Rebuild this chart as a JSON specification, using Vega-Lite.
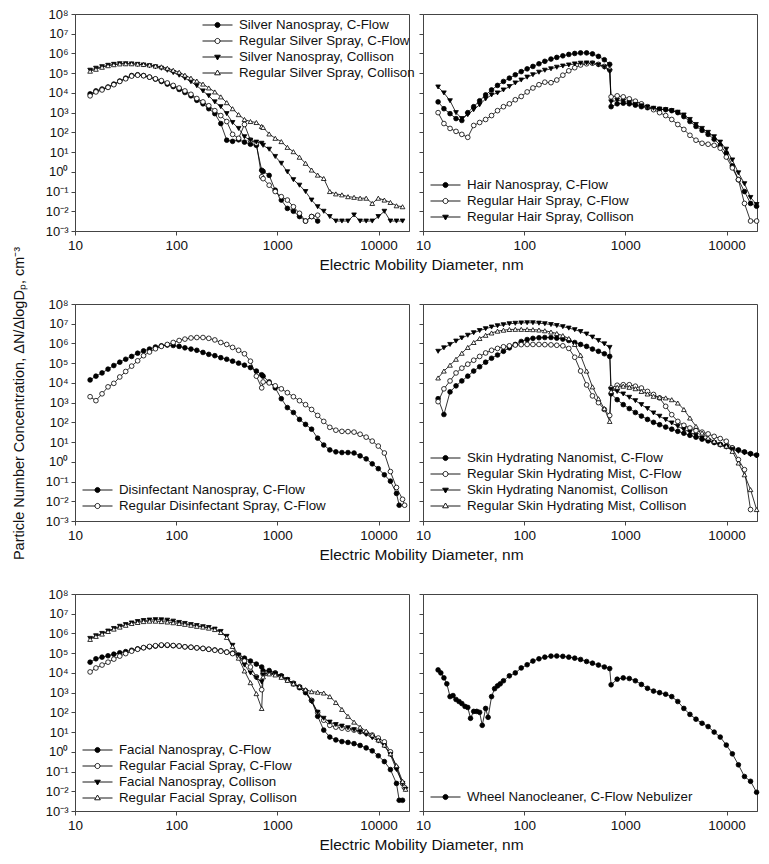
{
"$schema":"https://vega.github.io/schema/vega-lite/v6.json",
"background":"white",
"padding":{"left":10,"top":7,"right":5,"bottom":5},
"config":{
"font":"Liberation Sans",
"view":{"stroke":"#444","strokeWidth":1},
"axis":{"grid":false,"domainColor":"#444","tickColor":"#444","tickSize":4,"labelFont":"Liberation Sans","labelFontSize":13,"labelColor":"#111","labelPadding":3,"titleFont":"Liberation Sans","titleFontSize":14.5,"titleFontWeight":"normal","titleColor":"#111"},
"axisX":{"labelFontSize":13.5,"titleFontSize":15.5},
"legend":{"labelFont":"Liberation Sans","labelFontSize":13.3,"labelColor":"#111","labelLimit":400,"symbolSize":900,"symbolStrokeColor":"black","symbolStrokeWidth":0.9,"symbolOpacity":1,"labelOffset":6,"clipHeight":16,"rowPadding":0,"padding":0}
},
"datasets":{
"silver":[
{"s":"a","x":14.1,"y":8900},{"s":"a","x":16.1,"y":12600},{"s":"a","x":18.5,"y":15800},{"s":"a","x":21.2,"y":20000},{"s":"a","x":24.2,"y":28000},{"s":"a","x":27.7,"y":40000},{"s":"a","x":31.7,"y":56000},{"s":"a","x":36.3,"y":76000},{"s":"a","x":41.6,"y":83000},{"s":"a","x":47.6,"y":76000},{"s":"a","x":54.5,"y":63000},{"s":"a","x":62.4,"y":50000},{"s":"a","x":71.4,"y":38000},{"s":"a","x":81.7,"y":28000},{"s":"a","x":93.5,"y":21000},{"s":"a","x":107,"y":15000},{"s":"a","x":122,"y":10500},{"s":"a","x":140,"y":7100},{"s":"a","x":160,"y":4200},{"s":"a","x":184,"y":2800},{"s":"a","x":210,"y":1580},{"s":"a","x":241,"y":890},{"s":"a","x":276,"y":280},{"s":"a","x":316,"y":40},{"s":"a","x":361,"y":35},{"s":"a","x":414,"y":42},{"s":"a","x":473,"y":32},{"s":"a","x":542,"y":25},{"s":"a","x":620,"y":22},{"s":"a","x":700,"y":1.2},
{"s":"a","x":723,"y":1.05},{"s":"a","x":830,"y":0.66},{"s":"a","x":953,"y":0.117},{"s":"a","x":1094,"y":0.037},{"s":"a","x":1256,"y":0.014},{"s":"a","x":1441,"y":0.01},{"s":"a","x":1655,"y":0.0054},{"s":"a","x":1899,"y":0.0032},{"s":"a","x":2180,"y":0.0054},{"s":"a","x":2503,"y":0.0032},
{"s":"b","x":14.1,"y":7100},{"s":"b","x":16.1,"y":11200},{"s":"b","x":18.5,"y":14100},{"s":"b","x":21.2,"y":19000},{"s":"b","x":24.2,"y":26000},{"s":"b","x":27.7,"y":38000},{"s":"b","x":31.7,"y":52000},{"s":"b","x":36.3,"y":71000},{"s":"b","x":41.6,"y":79000},{"s":"b","x":47.6,"y":74000},{"s":"b","x":54.5,"y":63000},{"s":"b","x":62.4,"y":52000},{"s":"b","x":71.4,"y":42000},{"s":"b","x":81.7,"y":32000},{"s":"b","x":93.5,"y":24000},{"s":"b","x":107,"y":17800},{"s":"b","x":122,"y":12600},{"s":"b","x":140,"y":8500},{"s":"b","x":160,"y":5200},{"s":"b","x":184,"y":3500},{"s":"b","x":210,"y":2240},{"s":"b","x":241,"y":1260},{"s":"b","x":276,"y":710},{"s":"b","x":316,"y":355},{"s":"b","x":361,"y":79},{"s":"b","x":414,"y":50},{"s":"b","x":473,"y":250},{"s":"b","x":542,"y":40},{"s":"b","x":620,"y":28},{"s":"b","x":700,"y":0.56},
{"s":"b","x":723,"y":0.45},{"s":"b","x":830,"y":0.21},{"s":"b","x":953,"y":0.1},{"s":"b","x":1094,"y":0.055},{"s":"b","x":1256,"y":0.037},{"s":"b","x":1441,"y":0.017},{"s":"b","x":1655,"y":0.0079},{"s":"b","x":1899,"y":0.0032},{"s":"b","x":2180,"y":0.0054},{"s":"b","x":2503,"y":0.0063},
{"s":"c","x":14.1,"y":141000},{"s":"c","x":16.1,"y":178000},{"s":"c","x":18.5,"y":214000},{"s":"c","x":21.2,"y":250000},{"s":"c","x":24.2,"y":280000},{"s":"c","x":27.7,"y":300000},{"s":"c","x":31.7,"y":300000},{"s":"c","x":36.3,"y":295000},{"s":"c","x":41.6,"y":280000},{"s":"c","x":47.6,"y":260000},{"s":"c","x":54.5,"y":240000},{"s":"c","x":62.4,"y":210000},{"s":"c","x":71.4,"y":178000},{"s":"c","x":81.7,"y":141000},{"s":"c","x":93.5,"y":107000},{"s":"c","x":107,"y":79000},{"s":"c","x":122,"y":56000},{"s":"c","x":140,"y":37000},{"s":"c","x":160,"y":23000},{"s":"c","x":184,"y":12600},{"s":"c","x":210,"y":7100},{"s":"c","x":241,"y":3500},{"s":"c","x":276,"y":2000},{"s":"c","x":316,"y":890},{"s":"c","x":361,"y":316},{"s":"c","x":414,"y":158},{"s":"c","x":473,"y":60},{"s":"c","x":542,"y":40},{"s":"c","x":620,"y":32},{"s":"c","x":700,"y":28},
{"s":"c","x":723,"y":22},{"s":"c","x":830,"y":14},{"s":"c","x":953,"y":6},{"s":"c","x":1094,"y":2.7},{"s":"c","x":1256,"y":1},{"s":"c","x":1441,"y":0.4},{"s":"c","x":1655,"y":0.21},{"s":"c","x":1899,"y":0.1},{"s":"c","x":2180,"y":0.037},{"s":"c","x":2503,"y":0.017},{"s":"c","x":2873,"y":0.01},{"s":"c","x":3298,"y":0.0054},{"s":"c","x":3786,"y":0.0032},{"s":"c","x":4346,"y":0.0032},{"s":"c","x":4989,"y":0.0032},{"s":"c","x":5727,"y":0.0065},{"s":"c","x":6574,"y":0.0032},{"s":"c","x":7546,"y":0.0032},{"s":"c","x":8663,"y":0.0032},{"s":"c","x":9944,"y":0.0054},{"s":"c","x":11415,"y":0.01},{"s":"c","x":13103,"y":0.0032},{"s":"c","x":15041,"y":0.0032},{"s":"c","x":17266,"y":0.0032},
{"s":"d","x":14.1,"y":126000},{"s":"d","x":16.1,"y":158000},{"s":"d","x":18.5,"y":200000},{"s":"d","x":21.2,"y":240000},{"s":"d","x":24.2,"y":270000},{"s":"d","x":27.7,"y":295000},{"s":"d","x":31.7,"y":300000},{"s":"d","x":36.3,"y":300000},{"s":"d","x":41.6,"y":290000},{"s":"d","x":47.6,"y":275000},{"s":"d","x":54.5,"y":260000},{"s":"d","x":62.4,"y":230000},{"s":"d","x":71.4,"y":210000},{"s":"d","x":81.7,"y":178000},{"s":"d","x":93.5,"y":141000},{"s":"d","x":107,"y":112000},{"s":"d","x":122,"y":79000},{"s":"d","x":140,"y":56000},{"s":"d","x":160,"y":40000},{"s":"d","x":184,"y":28000},{"s":"d","x":210,"y":17800},{"s":"d","x":241,"y":11200},{"s":"d","x":276,"y":6300},{"s":"d","x":316,"y":3200},{"s":"d","x":361,"y":1580},{"s":"d","x":414,"y":790},{"s":"d","x":473,"y":450},{"s":"d","x":542,"y":355},{"s":"d","x":620,"y":316},{"s":"d","x":700,"y":200},
{"s":"d","x":723,"y":178},{"s":"d","x":830,"y":83},{"s":"d","x":953,"y":50},{"s":"d","x":1094,"y":34},{"s":"d","x":1256,"y":17.4},{"s":"d","x":1441,"y":10.5},{"s":"d","x":1655,"y":5.5},{"s":"d","x":1899,"y":2.7},{"s":"d","x":2180,"y":1.23},{"s":"d","x":2503,"y":0.68},{"s":"d","x":2873,"y":0.46},{"s":"d","x":3298,"y":0.1},{"s":"d","x":3786,"y":0.076},{"s":"d","x":4346,"y":0.068},{"s":"d","x":4989,"y":0.055},{"s":"d","x":5727,"y":0.051},{"s":"d","x":6574,"y":0.046},{"s":"d","x":7546,"y":0.046},{"s":"d","x":8663,"y":0.025},{"s":"d","x":9944,"y":0.046},{"s":"d","x":11415,"y":0.037},{"s":"d","x":13103,"y":0.028},{"s":"d","x":15041,"y":0.019},{"s":"d","x":17266,"y":0.017}
],
"hair":[
{"s":"a","x":14.1,"y":3500},{"s":"a","x":16.1,"y":1580},{"s":"a","x":18.5,"y":890},{"s":"a","x":21.2,"y":500},{"s":"a","x":24.2,"y":400},{"s":"a","x":27.7,"y":1000},{"s":"a","x":31.7,"y":2000},{"s":"a","x":36.3,"y":4000},{"s":"a","x":41.6,"y":7900},{"s":"a","x":47.6,"y":14100},{"s":"a","x":54.5,"y":24000},{"s":"a","x":62.4,"y":38000},{"s":"a","x":71.4,"y":56000},{"s":"a","x":81.7,"y":83000},{"s":"a","x":93.5,"y":120000},{"s":"a","x":107,"y":166000},{"s":"a","x":122,"y":220000},{"s":"a","x":140,"y":300000},{"s":"a","x":160,"y":400000},{"s":"a","x":184,"y":520000},{"s":"a","x":210,"y":630000},{"s":"a","x":241,"y":760000},{"s":"a","x":276,"y":890000},{"s":"a","x":316,"y":1000000},{"s":"a","x":361,"y":1070000},{"s":"a","x":414,"y":1070000},{"s":"a","x":473,"y":950000},{"s":"a","x":542,"y":710000},{"s":"a","x":620,"y":480000},{"s":"a","x":700,"y":280000},
{"s":"a","x":723,"y":2000},{"s":"a","x":830,"y":2800},{"s":"a","x":953,"y":3000},{"s":"a","x":1094,"y":2800},{"s":"a","x":1256,"y":2400},{"s":"a","x":1441,"y":2000},{"s":"a","x":1655,"y":1780},{"s":"a","x":1899,"y":1580},{"s":"a","x":2180,"y":1480},{"s":"a","x":2503,"y":1410},{"s":"a","x":2873,"y":1260},{"s":"a","x":3298,"y":1000},{"s":"a","x":3786,"y":630},{"s":"a","x":4346,"y":355},{"s":"a","x":4989,"y":200},{"s":"a","x":5727,"y":126},{"s":"a","x":6574,"y":79},{"s":"a","x":7546,"y":45},{"s":"a","x":8663,"y":22},{"s":"a","x":9944,"y":8.9},{"s":"a","x":11415,"y":2},{"s":"a","x":13103,"y":0.4},{"s":"a","x":15041,"y":0.1},{"s":"a","x":17266,"y":0.025},{"s":"a","x":19820,"y":0.018},
{"s":"b","x":14.1,"y":1000},{"s":"b","x":16.1,"y":280},{"s":"b","x":18.5,"y":158},{"s":"b","x":21.2,"y":112},{"s":"b","x":24.2,"y":79},{"s":"b","x":27.7,"y":56},{"s":"b","x":31.7,"y":224},{"s":"b","x":36.3,"y":316},{"s":"b","x":41.6,"y":450},{"s":"b","x":47.6,"y":710},{"s":"b","x":54.5,"y":1260},{"s":"b","x":62.4,"y":2000},{"s":"b","x":71.4,"y":2800},{"s":"b","x":81.7,"y":4500},{"s":"b","x":93.5,"y":6600},{"s":"b","x":107,"y":11200},{"s":"b","x":122,"y":17800},{"s":"b","x":140,"y":26000},{"s":"b","x":160,"y":35000},{"s":"b","x":184,"y":33000},{"s":"b","x":210,"y":45000},{"s":"b","x":241,"y":79000},{"s":"b","x":276,"y":132000},{"s":"b","x":316,"y":190000},{"s":"b","x":361,"y":260000},{"s":"b","x":414,"y":300000},{"s":"b","x":473,"y":320000},{"s":"b","x":542,"y":280000},{"s":"b","x":620,"y":220000},{"s":"b","x":700,"y":145000},
{"s":"b","x":723,"y":6300},{"s":"b","x":830,"y":7100},{"s":"b","x":953,"y":6300},{"s":"b","x":1094,"y":5000},{"s":"b","x":1256,"y":3800},{"s":"b","x":1441,"y":2800},{"s":"b","x":1655,"y":2000},{"s":"b","x":1899,"y":1410},{"s":"b","x":2180,"y":1000},{"s":"b","x":2503,"y":710},{"s":"b","x":2873,"y":450},{"s":"b","x":3298,"y":250},{"s":"b","x":3786,"y":141},{"s":"b","x":4346,"y":71},{"s":"b","x":4989,"y":40},{"s":"b","x":5727,"y":28},{"s":"b","x":6574,"y":25},{"s":"b","x":7546,"y":22},{"s":"b","x":8663,"y":15.8},{"s":"b","x":9944,"y":5.6},{"s":"b","x":11415,"y":1.58},{"s":"b","x":13103,"y":0.4},{"s":"b","x":15041,"y":0.025},{"s":"b","x":17266,"y":0.0032},{"s":"b","x":19820,"y":0.0032},
{"s":"c","x":14.1,"y":20000},{"s":"c","x":16.1,"y":10000},{"s":"c","x":18.5,"y":4000},{"s":"c","x":21.2,"y":1000},{"s":"c","x":24.2,"y":500},{"s":"c","x":27.7,"y":790},{"s":"c","x":31.7,"y":1410},{"s":"c","x":36.3,"y":2500},{"s":"c","x":41.6,"y":5000},{"s":"c","x":47.6,"y":7900},{"s":"c","x":54.5,"y":10000},{"s":"c","x":62.4,"y":14100},{"s":"c","x":71.4,"y":21000},{"s":"c","x":81.7,"y":32000},{"s":"c","x":93.5,"y":45000},{"s":"c","x":107,"y":63000},{"s":"c","x":122,"y":83000},{"s":"c","x":140,"y":112000},{"s":"c","x":160,"y":141000},{"s":"c","x":184,"y":166000},{"s":"c","x":210,"y":200000},{"s":"c","x":241,"y":230000},{"s":"c","x":276,"y":260000},{"s":"c","x":316,"y":295000},{"s":"c","x":361,"y":320000},{"s":"c","x":414,"y":330000},{"s":"c","x":473,"y":320000},{"s":"c","x":542,"y":260000},{"s":"c","x":620,"y":200000},{"s":"c","x":700,"y":126000},
{"s":"c","x":723,"y":3500},{"s":"c","x":830,"y":4200},{"s":"c","x":953,"y":3800},{"s":"c","x":1094,"y":3200},{"s":"c","x":1256,"y":2600},{"s":"c","x":1441,"y":2200},{"s":"c","x":1655,"y":1900},{"s":"c","x":1899,"y":1660},{"s":"c","x":2180,"y":1510},{"s":"c","x":2503,"y":1410},{"s":"c","x":2873,"y":1260},{"s":"c","x":3298,"y":1050},{"s":"c","x":3786,"y":760},{"s":"c","x":4346,"y":450},{"s":"c","x":4989,"y":250},{"s":"c","x":5727,"y":158},{"s":"c","x":6574,"y":100},{"s":"c","x":7546,"y":60},{"s":"c","x":8663,"y":32},{"s":"c","x":9944,"y":14},{"s":"c","x":11415,"y":4},{"s":"c","x":13103,"y":0.89},{"s":"c","x":15041,"y":0.25},{"s":"c","x":17266,"y":0.05},{"s":"c","x":19820,"y":0.022}
],
"dis":[
{"s":"a","x":14.1,"y":14100},{"s":"a","x":16.1,"y":22000},{"s":"a","x":18.5,"y":32000},{"s":"a","x":21.2,"y":50000},{"s":"a","x":24.2,"y":76000},{"s":"a","x":27.7,"y":112000},{"s":"a","x":31.7,"y":158000},{"s":"a","x":36.3,"y":220000},{"s":"a","x":41.6,"y":320000},{"s":"a","x":47.6,"y":420000},{"s":"a","x":54.5,"y":520000},{"s":"a","x":62.4,"y":660000},{"s":"a","x":71.4,"y":760000},{"s":"a","x":81.7,"y":830000},{"s":"a","x":93.5,"y":790000},{"s":"a","x":107,"y":710000},{"s":"a","x":122,"y":600000},{"s":"a","x":140,"y":520000},{"s":"a","x":160,"y":450000},{"s":"a","x":184,"y":350000},{"s":"a","x":210,"y":280000},{"s":"a","x":241,"y":240000},{"s":"a","x":276,"y":190000},{"s":"a","x":316,"y":158000},{"s":"a","x":361,"y":126000},{"s":"a","x":414,"y":100000},{"s":"a","x":473,"y":79000},{"s":"a","x":542,"y":60000},{"s":"a","x":620,"y":40000},{"s":"a","x":700,"y":26000},
{"s":"a","x":723,"y":22000},{"s":"a","x":830,"y":11200},{"s":"a","x":953,"y":5600},{"s":"a","x":1094,"y":1580},{"s":"a","x":1256,"y":560},{"s":"a","x":1441,"y":316},{"s":"a","x":1655,"y":141},{"s":"a","x":1899,"y":79},{"s":"a","x":2180,"y":45},{"s":"a","x":2503,"y":15.8},{"s":"a","x":2873,"y":7.1},{"s":"a","x":3298,"y":4},{"s":"a","x":3786,"y":3.2},{"s":"a","x":4346,"y":2.95},{"s":"a","x":4989,"y":2.95},{"s":"a","x":5727,"y":2.8},{"s":"a","x":6574,"y":2},{"s":"a","x":7546,"y":1.41},{"s":"a","x":8663,"y":0.79},{"s":"a","x":9944,"y":0.45},{"s":"a","x":11415,"y":0.22},{"s":"a","x":13103,"y":0.105},{"s":"a","x":15041,"y":0.025},{"s":"a","x":16000,"y":0.0063},
{"s":"b","x":14.1,"y":2000},{"s":"b","x":16.1,"y":1260},{"s":"b","x":18.5,"y":2800},{"s":"b","x":21.2,"y":6300},{"s":"b","x":24.2,"y":9500},{"s":"b","x":27.7,"y":20000},{"s":"b","x":31.7,"y":38000},{"s":"b","x":36.3,"y":71000},{"s":"b","x":41.6,"y":132000},{"s":"b","x":47.6,"y":240000},{"s":"b","x":54.5,"y":370000},{"s":"b","x":62.4,"y":540000},{"s":"b","x":71.4,"y":710000},{"s":"b","x":81.7,"y":890000},{"s":"b","x":93.5,"y":1120000},{"s":"b","x":107,"y":1410000},{"s":"b","x":122,"y":1660000},{"s":"b","x":140,"y":1900000},{"s":"b","x":160,"y":2000000},{"s":"b","x":184,"y":2000000},{"s":"b","x":210,"y":1820000},{"s":"b","x":241,"y":1510000},{"s":"b","x":276,"y":1120000},{"s":"b","x":316,"y":890000},{"s":"b","x":361,"y":630000},{"s":"b","x":414,"y":450000},{"s":"b","x":473,"y":300000},{"s":"b","x":542,"y":126000},{"s":"b","x":620,"y":22000},{"s":"b","x":700,"y":5600},
{"s":"b","x":723,"y":11200},{"s":"b","x":830,"y":10000},{"s":"b","x":953,"y":7100},{"s":"b","x":1094,"y":5000},{"s":"b","x":1256,"y":3200},{"s":"b","x":1441,"y":2000},{"s":"b","x":1655,"y":1260},{"s":"b","x":1899,"y":790},{"s":"b","x":2180,"y":450},{"s":"b","x":2503,"y":224},{"s":"b","x":2873,"y":112},{"s":"b","x":3298,"y":56},{"s":"b","x":3786,"y":40},{"s":"b","x":4346,"y":35},{"s":"b","x":4989,"y":34},{"s":"b","x":5727,"y":32},{"s":"b","x":6574,"y":25},{"s":"b","x":7546,"y":17.8},{"s":"b","x":8663,"y":11.2},{"s":"b","x":9944,"y":6.3},{"s":"b","x":11415,"y":2.8},{"s":"b","x":13103,"y":0.32},{"s":"b","x":15041,"y":0.05},{"s":"b","x":17266,"y":0.0126},{"s":"b","x":18100,"y":0.0063}
],
"skin":[
{"s":"a","x":14.1,"y":1580},{"s":"a","x":16.1,"y":250},{"s":"a","x":18.5,"y":3500},{"s":"a","x":21.2,"y":7100},{"s":"a","x":24.2,"y":12600},{"s":"a","x":27.7,"y":22000},{"s":"a","x":31.7,"y":40000},{"s":"a","x":36.3,"y":66000},{"s":"a","x":41.6,"y":112000},{"s":"a","x":47.6,"y":178000},{"s":"a","x":54.5,"y":260000},{"s":"a","x":62.4,"y":400000},{"s":"a","x":71.4,"y":600000},{"s":"a","x":81.7,"y":890000},{"s":"a","x":93.5,"y":1260000},{"s":"a","x":107,"y":1580000},{"s":"a","x":122,"y":1820000},{"s":"a","x":140,"y":1950000},{"s":"a","x":160,"y":2000000},{"s":"a","x":184,"y":2000000},{"s":"a","x":210,"y":1860000},{"s":"a","x":241,"y":1660000},{"s":"a","x":276,"y":1410000},{"s":"a","x":316,"y":1120000},{"s":"a","x":361,"y":890000},{"s":"a","x":414,"y":710000},{"s":"a","x":473,"y":520000},{"s":"a","x":542,"y":400000},{"s":"a","x":620,"y":300000},{"s":"a","x":700,"y":220000},
{"s":"a","x":723,"y":2800},{"s":"a","x":830,"y":1410},{"s":"a","x":953,"y":790},{"s":"a","x":1094,"y":500},{"s":"a","x":1256,"y":316},{"s":"a","x":1441,"y":209},{"s":"a","x":1655,"y":141},{"s":"a","x":1899,"y":100},{"s":"a","x":2180,"y":76},{"s":"a","x":2503,"y":58},{"s":"a","x":2873,"y":45},{"s":"a","x":3298,"y":35},{"s":"a","x":3786,"y":28},{"s":"a","x":4346,"y":22},{"s":"a","x":4989,"y":17.8},{"s":"a","x":5727,"y":14.1},{"s":"a","x":6574,"y":11.5},{"s":"a","x":7546,"y":9.5},{"s":"a","x":8663,"y":7.6},{"s":"a","x":9944,"y":6.3},{"s":"a","x":11415,"y":5},{"s":"a","x":13103,"y":4},{"s":"a","x":15041,"y":3.2},{"s":"a","x":17266,"y":2.6},{"s":"a","x":19820,"y":2.2},
{"s":"b","x":14.1,"y":1120},{"s":"b","x":16.1,"y":5000},{"s":"b","x":18.5,"y":12600},{"s":"b","x":21.2,"y":32000},{"s":"b","x":24.2,"y":56000},{"s":"b","x":27.7,"y":89000},{"s":"b","x":31.7,"y":141000},{"s":"b","x":36.3,"y":220000},{"s":"b","x":41.6,"y":330000},{"s":"b","x":47.6,"y":450000},{"s":"b","x":54.5,"y":560000},{"s":"b","x":62.4,"y":680000},{"s":"b","x":71.4,"y":760000},{"s":"b","x":81.7,"y":830000},{"s":"b","x":93.5,"y":870000},{"s":"b","x":107,"y":890000},{"s":"b","x":122,"y":890000},{"s":"b","x":140,"y":890000},{"s":"b","x":160,"y":870000},{"s":"b","x":184,"y":850000},{"s":"b","x":210,"y":810000},{"s":"b","x":241,"y":760000},{"s":"b","x":276,"y":560000},{"s":"b","x":316,"y":200000},{"s":"b","x":361,"y":40000},{"s":"b","x":414,"y":7900},{"s":"b","x":473,"y":2200},{"s":"b","x":542,"y":1000},{"s":"b","x":620,"y":450},{"s":"b","x":700,"y":224},
{"s":"b","x":723,"y":5500},{"s":"b","x":830,"y":7600},{"s":"b","x":953,"y":8100},{"s":"b","x":1094,"y":8100},{"s":"b","x":1256,"y":6800},{"s":"b","x":1441,"y":5500},{"s":"b","x":1655,"y":3700},{"s":"b","x":1899,"y":2600},{"s":"b","x":2180,"y":1740},{"s":"b","x":2503,"y":650},{"s":"b","x":2873,"y":245},{"s":"b","x":3298,"y":112},{"s":"b","x":3786,"y":71},{"s":"b","x":4346,"y":52},{"s":"b","x":4989,"y":38},{"s":"b","x":5727,"y":32},{"s":"b","x":6574,"y":26},{"s":"b","x":7546,"y":19.5},{"s":"b","x":8663,"y":15.1},{"s":"b","x":9944,"y":11},{"s":"b","x":11415,"y":5},{"s":"b","x":13103,"y":1.29},{"s":"b","x":15041,"y":0.4},{"s":"b","x":17266,"y":0.0038},
{"s":"c","x":14.1,"y":400000},{"s":"c","x":16.1,"y":600000},{"s":"c","x":18.5,"y":890000},{"s":"c","x":21.2,"y":1320000},{"s":"c","x":24.2,"y":1900000},{"s":"c","x":27.7,"y":2600000},{"s":"c","x":31.7,"y":3500000},{"s":"c","x":36.3,"y":4500000},{"s":"c","x":41.6,"y":5600000},{"s":"c","x":47.6,"y":6800000},{"s":"c","x":54.5,"y":7900000},{"s":"c","x":62.4,"y":8900000},{"s":"c","x":71.4,"y":10000000},{"s":"c","x":81.7,"y":10500000},{"s":"c","x":93.5,"y":11000000},{"s":"c","x":107,"y":11200000},{"s":"c","x":122,"y":11200000},{"s":"c","x":140,"y":10700000},{"s":"c","x":160,"y":10000000},{"s":"c","x":184,"y":9100000},{"s":"c","x":210,"y":8100000},{"s":"c","x":241,"y":7100000},{"s":"c","x":276,"y":6000000},{"s":"c","x":316,"y":5000000},{"s":"c","x":361,"y":4000000},{"s":"c","x":414,"y":3000000},{"s":"c","x":473,"y":2100000},{"s":"c","x":542,"y":1410000},{"s":"c","x":620,"y":950000},{"s":"c","x":700,"y":630000},
{"s":"c","x":723,"y":4600},{"s":"c","x":830,"y":3700},{"s":"c","x":953,"y":2750},{"s":"c","x":1094,"y":1860},{"s":"c","x":1256,"y":1260},{"s":"c","x":1441,"y":790},{"s":"c","x":1655,"y":500},{"s":"c","x":1899,"y":300},{"s":"c","x":2180,"y":204},{"s":"c","x":2503,"y":138},{"s":"c","x":2873,"y":93},{"s":"c","x":3298,"y":63},{"s":"c","x":3786,"y":43},{"s":"c","x":4346,"y":32},{"s":"c","x":4989,"y":22},{"s":"c","x":5727,"y":16.2},{"s":"c","x":6574,"y":11.7},{"s":"c","x":7546,"y":9.1},{"s":"c","x":8663,"y":6.9},{"s":"c","x":9944,"y":5.5},{"s":"c","x":11415,"y":4.2},{"s":"c","x":13103,"y":3.4},{"s":"c","x":15041,"y":2.8},{"s":"c","x":17266,"y":2.3},{"s":"c","x":19820,"y":2},
{"s":"d","x":14.1,"y":17800},{"s":"d","x":16.1,"y":40000},{"s":"d","x":18.5,"y":79000},{"s":"d","x":21.2,"y":158000},{"s":"d","x":24.2,"y":320000},{"s":"d","x":27.7,"y":630000},{"s":"d","x":31.7,"y":1120000},{"s":"d","x":36.3,"y":1780000},{"s":"d","x":41.6,"y":2600000},{"s":"d","x":47.6,"y":3400000},{"s":"d","x":54.5,"y":4200000},{"s":"d","x":62.4,"y":4700000},{"s":"d","x":71.4,"y":5100000},{"s":"d","x":81.7,"y":5200000},{"s":"d","x":93.5,"y":5200000},{"s":"d","x":107,"y":5100000},{"s":"d","x":122,"y":5000000},{"s":"d","x":140,"y":4800000},{"s":"d","x":160,"y":4400000},{"s":"d","x":184,"y":3800000},{"s":"d","x":210,"y":3200000},{"s":"d","x":241,"y":2500000},{"s":"d","x":276,"y":1780000},{"s":"d","x":316,"y":890000},{"s":"d","x":361,"y":250000},{"s":"d","x":414,"y":40000},{"s":"d","x":473,"y":6300},{"s":"d","x":542,"y":1580},{"s":"d","x":620,"y":500},{"s":"d","x":700,"y":112},
{"s":"d","x":723,"y":3700},{"s":"d","x":830,"y":6000},{"s":"d","x":953,"y":6800},{"s":"d","x":1094,"y":6000},{"s":"d","x":1256,"y":5100},{"s":"d","x":1441,"y":3700},{"s":"d","x":1655,"y":2750},{"s":"d","x":1899,"y":2100},{"s":"d","x":2180,"y":1860},{"s":"d","x":2503,"y":1740},{"s":"d","x":2873,"y":1410},{"s":"d","x":3298,"y":955},{"s":"d","x":3786,"y":447},{"s":"d","x":4346,"y":166},{"s":"d","x":4989,"y":63},{"s":"d","x":5727,"y":29},{"s":"d","x":6574,"y":16.2},{"s":"d","x":7546,"y":11},{"s":"d","x":8663,"y":7.9},{"s":"d","x":9944,"y":6.2},{"s":"d","x":11415,"y":3.4},{"s":"d","x":13103,"y":0.87},{"s":"d","x":15041,"y":0.22},{"s":"d","x":17266,"y":0.039},{"s":"d","x":19820,"y":0.0038}
],
"facial":[
{"s":"a","x":14.1,"y":35000},{"s":"a","x":16.1,"y":52000},{"s":"a","x":18.5,"y":63000},{"s":"a","x":21.2,"y":74000},{"s":"a","x":24.2,"y":89000},{"s":"a","x":27.7,"y":105000},{"s":"a","x":31.7,"y":120000},{"s":"a","x":36.3,"y":141000},{"s":"a","x":41.6,"y":166000},{"s":"a","x":47.6,"y":190000},{"s":"a","x":54.5,"y":210000},{"s":"a","x":62.4,"y":230000},{"s":"a","x":71.4,"y":250000},{"s":"a","x":81.7,"y":250000},{"s":"a","x":93.5,"y":240000},{"s":"a","x":107,"y":230000},{"s":"a","x":122,"y":210000},{"s":"a","x":140,"y":200000},{"s":"a","x":160,"y":186000},{"s":"a","x":184,"y":174000},{"s":"a","x":210,"y":158000},{"s":"a","x":241,"y":145000},{"s":"a","x":276,"y":132000},{"s":"a","x":316,"y":115000},{"s":"a","x":361,"y":100000},{"s":"a","x":414,"y":79000},{"s":"a","x":473,"y":56000},{"s":"a","x":542,"y":40000},{"s":"a","x":620,"y":28000},{"s":"a","x":700,"y":20000},
{"s":"a","x":723,"y":12600},{"s":"a","x":830,"y":13200},{"s":"a","x":953,"y":10000},{"s":"a","x":1094,"y":7100},{"s":"a","x":1256,"y":4500},{"s":"a","x":1441,"y":2800},{"s":"a","x":1655,"y":1780},{"s":"a","x":1899,"y":1000},{"s":"a","x":2180,"y":400},{"s":"a","x":2503,"y":63},{"s":"a","x":2873,"y":12.6},{"s":"a","x":3298,"y":5.6},{"s":"a","x":3786,"y":4},{"s":"a","x":4346,"y":3.3},{"s":"a","x":4989,"y":3},{"s":"a","x":5727,"y":2.6},{"s":"a","x":6574,"y":2.1},{"s":"a","x":7546,"y":1.58},{"s":"a","x":8663,"y":1.12},{"s":"a","x":9944,"y":0.63},{"s":"a","x":11415,"y":0.32},{"s":"a","x":13103,"y":0.126},{"s":"a","x":15041,"y":0.025},{"s":"a","x":16000,"y":0.0035},{"s":"a","x":17266,"y":0.0035},
{"s":"b","x":14.1,"y":11200},{"s":"b","x":16.1,"y":17800},{"s":"b","x":18.5,"y":25000},{"s":"b","x":21.2,"y":35000},{"s":"b","x":24.2,"y":50000},{"s":"b","x":27.7,"y":71000},{"s":"b","x":31.7,"y":95000},{"s":"b","x":36.3,"y":126000},{"s":"b","x":41.6,"y":158000},{"s":"b","x":47.6,"y":190000},{"s":"b","x":54.5,"y":220000},{"s":"b","x":62.4,"y":240000},{"s":"b","x":71.4,"y":260000},{"s":"b","x":81.7,"y":260000},{"s":"b","x":93.5,"y":245000},{"s":"b","x":107,"y":230000},{"s":"b","x":122,"y":210000},{"s":"b","x":140,"y":200000},{"s":"b","x":160,"y":186000},{"s":"b","x":184,"y":174000},{"s":"b","x":210,"y":158000},{"s":"b","x":241,"y":141000},{"s":"b","x":276,"y":126000},{"s":"b","x":316,"y":112000},{"s":"b","x":361,"y":95000},{"s":"b","x":414,"y":71000},{"s":"b","x":473,"y":40000},{"s":"b","x":542,"y":20000},{"s":"b","x":620,"y":6300},{"s":"b","x":700,"y":1410},
{"s":"b","x":723,"y":8900},{"s":"b","x":830,"y":10000},{"s":"b","x":953,"y":8900},{"s":"b","x":1094,"y":6600},{"s":"b","x":1256,"y":4500},{"s":"b","x":1441,"y":3000},{"s":"b","x":1655,"y":2000},{"s":"b","x":1899,"y":1260},{"s":"b","x":2180,"y":400},{"s":"b","x":2503,"y":100},{"s":"b","x":2873,"y":40},{"s":"b","x":3298,"y":22},{"s":"b","x":3786,"y":17.8},{"s":"b","x":4346,"y":15.8},{"s":"b","x":4989,"y":14.1},{"s":"b","x":5727,"y":12.6},{"s":"b","x":6574,"y":10.5},{"s":"b","x":7546,"y":8.9},{"s":"b","x":8663,"y":7.1},{"s":"b","x":9944,"y":5},{"s":"b","x":11415,"y":3.2},{"s":"b","x":13103,"y":1},{"s":"b","x":15041,"y":0.158},{"s":"b","x":17266,"y":0.025},{"s":"b","x":18000,"y":0.0158},
{"s":"c","x":14.1,"y":560000},{"s":"c","x":16.1,"y":760000},{"s":"c","x":18.5,"y":1000000},{"s":"c","x":21.2,"y":1320000},{"s":"c","x":24.2,"y":1780000},{"s":"c","x":27.7,"y":2300000},{"s":"c","x":31.7,"y":2800000},{"s":"c","x":36.3,"y":3400000},{"s":"c","x":41.6,"y":4000000},{"s":"c","x":47.6,"y":4500000},{"s":"c","x":54.5,"y":4800000},{"s":"c","x":62.4,"y":5000000},{"s":"c","x":71.4,"y":4900000},{"s":"c","x":81.7,"y":4700000},{"s":"c","x":93.5,"y":4200000},{"s":"c","x":107,"y":3600000},{"s":"c","x":122,"y":3200000},{"s":"c","x":140,"y":2800000},{"s":"c","x":160,"y":2500000},{"s":"c","x":184,"y":2200000},{"s":"c","x":210,"y":2000000},{"s":"c","x":241,"y":1660000},{"s":"c","x":276,"y":1260000},{"s":"c","x":316,"y":710000},{"s":"c","x":361,"y":250000},{"s":"c","x":414,"y":79000},{"s":"c","x":473,"y":25000},{"s":"c","x":542,"y":10000},{"s":"c","x":620,"y":5600},{"s":"c","x":700,"y":3500},
{"s":"c","x":723,"y":7900},{"s":"c","x":830,"y":10000},{"s":"c","x":953,"y":8900},{"s":"c","x":1094,"y":6600},{"s":"c","x":1256,"y":4500},{"s":"c","x":1441,"y":2800},{"s":"c","x":1655,"y":1780},{"s":"c","x":1899,"y":1000},{"s":"c","x":2180,"y":355},{"s":"c","x":2503,"y":100},{"s":"c","x":2873,"y":50},{"s":"c","x":3298,"y":32},{"s":"c","x":3786,"y":24},{"s":"c","x":4346,"y":20},{"s":"c","x":4989,"y":16.6},{"s":"c","x":5727,"y":13.2},{"s":"c","x":6574,"y":10},{"s":"c","x":7546,"y":7.6},{"s":"c","x":8663,"y":5.2},{"s":"c","x":9944,"y":3.5},{"s":"c","x":11415,"y":2},{"s":"c","x":13103,"y":0.71},{"s":"c","x":15041,"y":0.126},{"s":"c","x":17266,"y":0.025},{"s":"c","x":18500,"y":0.0126},
{"s":"d","x":14.1,"y":500000},{"s":"d","x":16.1,"y":710000},{"s":"d","x":18.5,"y":930000},{"s":"d","x":21.2,"y":1260000},{"s":"d","x":24.2,"y":1660000},{"s":"d","x":27.7,"y":2100000},{"s":"d","x":31.7,"y":2600000},{"s":"d","x":36.3,"y":3200000},{"s":"d","x":41.6,"y":3600000},{"s":"d","x":47.6,"y":4000000},{"s":"d","x":54.5,"y":4200000},{"s":"d","x":62.4,"y":4200000},{"s":"d","x":71.4,"y":4000000},{"s":"d","x":81.7,"y":3800000},{"s":"d","x":93.5,"y":3500000},{"s":"d","x":107,"y":3200000},{"s":"d","x":122,"y":2900000},{"s":"d","x":140,"y":2600000},{"s":"d","x":160,"y":2300000},{"s":"d","x":184,"y":2100000},{"s":"d","x":210,"y":1860000},{"s":"d","x":241,"y":1580000},{"s":"d","x":276,"y":1120000},{"s":"d","x":316,"y":630000},{"s":"d","x":361,"y":220000},{"s":"d","x":414,"y":56000},{"s":"d","x":473,"y":12600},{"s":"d","x":542,"y":3200},{"s":"d","x":620,"y":890},{"s":"d","x":700,"y":158},
{"s":"d","x":723,"y":6300},{"s":"d","x":830,"y":8900},{"s":"d","x":953,"y":7900},{"s":"d","x":1094,"y":6000},{"s":"d","x":1256,"y":4200},{"s":"d","x":1441,"y":2800},{"s":"d","x":1655,"y":2000},{"s":"d","x":1899,"y":1410},{"s":"d","x":2180,"y":1120},{"s":"d","x":2503,"y":1050},{"s":"d","x":2873,"y":955},{"s":"d","x":3298,"y":630},{"s":"d","x":3786,"y":316},{"s":"d","x":4346,"y":141},{"s":"d","x":4989,"y":63},{"s":"d","x":5727,"y":32},{"s":"d","x":6574,"y":17.8},{"s":"d","x":7546,"y":11.2},{"s":"d","x":8663,"y":7.1},{"s":"d","x":9944,"y":4},{"s":"d","x":11415,"y":2.2},{"s":"d","x":13103,"y":0.79},{"s":"d","x":15041,"y":0.2},{"s":"d","x":17266,"y":0.032},{"s":"d","x":18500,"y":0.0126}
],
"wheel":[
{"s":"a","x":14.1,"y":14100},{"s":"a","x":15,"y":10000},{"s":"a","x":16.1,"y":5600},{"s":"a","x":17.2,"y":2800},{"s":"a","x":18.5,"y":630},{"s":"a","x":19.8,"y":710},{"s":"a","x":21.2,"y":450},{"s":"a","x":22.7,"y":355},{"s":"a","x":24.2,"y":280},{"s":"a","x":26,"y":200},{"s":"a","x":27.7,"y":178},{"s":"a","x":29.5,"y":50},{"s":"a","x":31.7,"y":112},{"s":"a","x":34,"y":112},{"s":"a","x":36.3,"y":100},{"s":"a","x":38.5,"y":22},{"s":"a","x":41.6,"y":158},{"s":"a","x":44,"y":56},{"s":"a","x":47.6,"y":630},{"s":"a","x":51,"y":1580},{"s":"a","x":54.5,"y":2200},{"s":"a","x":58,"y":2800},{"s":"a","x":62.4,"y":4000},{"s":"a","x":71.4,"y":7100},{"s":"a","x":81.7,"y":10000},{"s":"a","x":93.5,"y":17800},{"s":"a","x":107,"y":26000},{"s":"a","x":122,"y":40000},{"s":"a","x":140,"y":52000},{"s":"a","x":160,"y":63000},{"s":"a","x":184,"y":71000},{"s":"a","x":210,"y":72000},{"s":"a","x":241,"y":69000},{"s":"a","x":276,"y":63000},{"s":"a","x":316,"y":56000},{"s":"a","x":361,"y":48000},{"s":"a","x":414,"y":38000},{"s":"a","x":473,"y":31000},{"s":"a","x":542,"y":25000},{"s":"a","x":620,"y":20000},{"s":"a","x":700,"y":16600},
{"s":"a","x":723,"y":2500},{"s":"a","x":830,"y":4800},{"s":"a","x":953,"y":5600},{"s":"a","x":1094,"y":5200},{"s":"a","x":1256,"y":4000},{"s":"a","x":1441,"y":2600},{"s":"a","x":1655,"y":1660},{"s":"a","x":1899,"y":1200},{"s":"a","x":2180,"y":1000},{"s":"a","x":2503,"y":830},{"s":"a","x":2873,"y":630},{"s":"a","x":3298,"y":355},{"s":"a","x":3786,"y":158},{"s":"a","x":4346,"y":79},{"s":"a","x":4989,"y":45},{"s":"a","x":5727,"y":28},{"s":"a","x":6574,"y":19},{"s":"a","x":7546,"y":10},{"s":"a","x":8663,"y":5.6},{"s":"a","x":9944,"y":2.2},{"s":"a","x":11415,"y":0.79},{"s":"a","x":13103,"y":0.22},{"s":"a","x":15041,"y":0.056},{"s":"a","x":17266,"y":0.032},{"s":"a","x":19820,"y":0.0089}
]
},
"columns":2,
"bounds":"flush",
"spacing":{"row":73,"column":14},
"resolve":{"scale":{"shape":"independent","fill":"independent","stroke":"independent"}},
"concat":[
{"width":334,"height":217,"data":{"name":"silver"},
"resolve":{"scale":{"shape":"independent","fill":"independent","stroke":"independent"}},
"encoding":{"x":{"field":"x","type":"quantitative","scale":{"type":"log","domain":[10,20000],"nice":false},"axis":{"values":[10,100,1000,10000],"format":"d","labelFlush":false,"title":"Electric Mobility Diameter, nm","titleX":346,"titlePadding":6}},
"y":{"field":"y","type":"quantitative","scale":{"type":"log","domain":[0.001,100000000],"nice":false},"axis":{"values":[0.001,0.01,0.1,1,10,100,1000,10000,100000,1000000,10000000,100000000],"labelExpr":"['10⁻³','10⁻²','10⁻¹','10⁰','10¹','10²','10³','10⁴','10⁵','10⁶','10⁷','10⁸'][round(log(datum.value)/LN10)+3]","title":null}}},
"layer":[
{"mark":{"type":"line","color":"black","strokeWidth":0.8},"encoding":{"detail":{"field":"s"}}},
{"mark":{"type":"point","stroke":"black","strokeWidth":0.8,"size":22,"opacity":1},
"encoding":{
"shape":{"field":"s","type":"nominal","scale":{"domain":["a","b","c","d"],"range":["circle","circle","triangle-down","triangle-up"]},"legend":null},
"fill":{"field":"s","type":"nominal","scale":{"range":["black","white","black","white"]},"legend":null}}},
{"mark":{"type":"point","strokeWidth":0.9,"size":0,"opacity":1},
"encoding":{
"shape":{"field":"s","type":"nominal","scale":{"range":["M-1,0H-0.17M0.17,0H1M-0.17,0A0.17,0.17,0,1,0,0.17,0A0.17,0.17,0,1,0,-0.17,0Z","M-1,0H-0.17M0.17,0H1M-0.17,0A0.17,0.17,0,1,0,0.17,0A0.17,0.17,0,1,0,-0.17,0Z","M-1,0H-0.14M0.14,0H1M-0.19,-0.12L0.19,-0.12L0,0.2Z","M-1,0H-0.14M0.14,0H1M-0.19,0.12L0.19,0.12L0,-0.2Z"]},"legend":{"title":null,"orient":"none","legendX":127,"legendY":3,"labelExpr":"datum.label=='a'?'Silver Nanospray, C-Flow':datum.label=='b'?'Regular Silver Spray, C-Flow':datum.label=='c'?'Silver Nanospray, Collison':'Regular Silver Spray, Collison'"}},
"fill":{"field":"s","type":"nominal","scale":{"range":["black","white","black","white"]},"legend":{"title":null,"orient":"none","legendX":127,"legendY":3,"labelExpr":"datum.label=='a'?'Silver Nanospray, C-Flow':datum.label=='b'?'Regular Silver Spray, C-Flow':datum.label=='c'?'Silver Nanospray, Collison':'Regular Silver Spray, Collison'"}},
"stroke":{"field":"s","type":"nominal","scale":{"range":["black","black","black","black"]},"legend":{"title":null,"orient":"none","legendX":127,"legendY":3,"labelExpr":"datum.label=='a'?'Silver Nanospray, C-Flow':datum.label=='b'?'Regular Silver Spray, C-Flow':datum.label=='c'?'Silver Nanospray, Collison':'Regular Silver Spray, Collison'"}}}}
]},
{"width":334,"height":217,"data":{"name":"hair"},
"resolve":{"scale":{"shape":"independent","fill":"independent","stroke":"independent"}},
"encoding":{"x":{"field":"x","type":"quantitative","scale":{"type":"log","domain":[10,20000],"nice":false},"axis":{"values":[10,100,1000,10000],"format":"d","labelFlush":false,"title":null}},
"y":{"field":"y","type":"quantitative","scale":{"type":"log","domain":[0.001,100000000],"nice":false},"axis":{"values":[0.001,0.01,0.1,1,10,100,1000,10000,100000,1000000,10000000,100000000],"labels":false,"title":null}}},
"layer":[
{"mark":{"type":"line","color":"black","strokeWidth":0.8},"encoding":{"detail":{"field":"s"}}},
{"mark":{"type":"point","stroke":"black","strokeWidth":0.8,"size":22,"opacity":1},
"encoding":{
"shape":{"field":"s","type":"nominal","scale":{"domain":["a","b","c","d"],"range":["circle","circle","triangle-down","triangle-up"]},"legend":null},
"fill":{"field":"s","type":"nominal","scale":{"range":["black","white","black","white"]},"legend":null}}},
{"mark":{"type":"point","strokeWidth":0.9,"size":0,"opacity":1},
"encoding":{
"shape":{"field":"s","type":"nominal","scale":{"range":["M-1,0H-0.17M0.17,0H1M-0.17,0A0.17,0.17,0,1,0,0.17,0A0.17,0.17,0,1,0,-0.17,0Z","M-1,0H-0.17M0.17,0H1M-0.17,0A0.17,0.17,0,1,0,0.17,0A0.17,0.17,0,1,0,-0.17,0Z","M-1,0H-0.14M0.14,0H1M-0.19,-0.12L0.19,-0.12L0,0.2Z"]},"legend":{"title":null,"orient":"none","legendX":7,"legendY":163,"labelExpr":"datum.label=='a'?'Hair Nanospray, C-Flow':datum.label=='b'?'Regular Hair Spray, C-Flow':'Regular Hair Spray, Collison'"}},
"fill":{"field":"s","type":"nominal","scale":{"range":["black","white","black"]},"legend":{"title":null,"orient":"none","legendX":7,"legendY":163,"labelExpr":"datum.label=='a'?'Hair Nanospray, C-Flow':datum.label=='b'?'Regular Hair Spray, C-Flow':'Regular Hair Spray, Collison'"}},
"stroke":{"field":"s","type":"nominal","scale":{"range":["black","black","black"]},"legend":{"title":null,"orient":"none","legendX":7,"legendY":163,"labelExpr":"datum.label=='a'?'Hair Nanospray, C-Flow':datum.label=='b'?'Regular Hair Spray, C-Flow':'Regular Hair Spray, Collison'"}}}}
]},
{"width":334,"height":217,"data":{"name":"dis"},
"resolve":{"scale":{"shape":"independent","fill":"independent","stroke":"independent"}},
"encoding":{"x":{"field":"x","type":"quantitative","scale":{"type":"log","domain":[10,20000],"nice":false},"axis":{"values":[10,100,1000,10000],"format":"d","labelFlush":false,"title":"Electric Mobility Diameter, nm","titleX":346,"titlePadding":6}},
"y":{"field":"y","type":"quantitative","scale":{"type":"log","domain":[0.001,100000000],"nice":false},"axis":{"values":[0.001,0.01,0.1,1,10,100,1000,10000,100000,1000000,10000000,100000000],"labelExpr":"['10⁻³','10⁻²','10⁻¹','10⁰','10¹','10²','10³','10⁴','10⁵','10⁶','10⁷','10⁸'][round(log(datum.value)/LN10)+3]","title":"Particle Number Concentration, ΔN/ΔlogDₚ, cm⁻³","titleY":99,"titlePadding":19}}},
"layer":[
{"mark":{"type":"line","color":"black","strokeWidth":0.8},"encoding":{"detail":{"field":"s"}}},
{"mark":{"type":"point","stroke":"black","strokeWidth":0.8,"size":22,"opacity":1},
"encoding":{
"shape":{"field":"s","type":"nominal","scale":{"domain":["a","b","c","d"],"range":["circle","circle","triangle-down","triangle-up"]},"legend":null},
"fill":{"field":"s","type":"nominal","scale":{"range":["black","white","black","white"]},"legend":null}}},
{"mark":{"type":"point","strokeWidth":0.9,"size":0,"opacity":1},
"encoding":{
"shape":{"field":"s","type":"nominal","scale":{"range":["M-1,0H-0.17M0.17,0H1M-0.17,0A0.17,0.17,0,1,0,0.17,0A0.17,0.17,0,1,0,-0.17,0Z","M-1,0H-0.17M0.17,0H1M-0.17,0A0.17,0.17,0,1,0,0.17,0A0.17,0.17,0,1,0,-0.17,0Z"]},"legend":{"title":null,"orient":"none","legendX":7,"legendY":178,"labelExpr":"datum.label=='a'?'Disinfectant Nanospray, C-Flow':'Regular Disinfectant Spray, C-Flow'"}},
"fill":{"field":"s","type":"nominal","scale":{"range":["black","white"]},"legend":{"title":null,"orient":"none","legendX":7,"legendY":178,"labelExpr":"datum.label=='a'?'Disinfectant Nanospray, C-Flow':'Regular Disinfectant Spray, C-Flow'"}},
"stroke":{"field":"s","type":"nominal","scale":{"range":["black","black"]},"legend":{"title":null,"orient":"none","legendX":7,"legendY":178,"labelExpr":"datum.label=='a'?'Disinfectant Nanospray, C-Flow':'Regular Disinfectant Spray, C-Flow'"}}}}
]},
{"width":334,"height":217,"data":{"name":"skin"},
"resolve":{"scale":{"shape":"independent","fill":"independent","stroke":"independent"}},
"encoding":{"x":{"field":"x","type":"quantitative","scale":{"type":"log","domain":[10,20000],"nice":false},"axis":{"values":[10,100,1000,10000],"format":"d","labelFlush":false,"title":null}},
"y":{"field":"y","type":"quantitative","scale":{"type":"log","domain":[0.001,100000000],"nice":false},"axis":{"values":[0.001,0.01,0.1,1,10,100,1000,10000,100000,1000000,10000000,100000000],"labels":false,"title":null}}},
"layer":[
{"mark":{"type":"line","color":"black","strokeWidth":0.8},"encoding":{"detail":{"field":"s"}}},
{"mark":{"type":"point","stroke":"black","strokeWidth":0.8,"size":22,"opacity":1},
"encoding":{
"shape":{"field":"s","type":"nominal","scale":{"domain":["a","b","c","d"],"range":["circle","circle","triangle-down","triangle-up"]},"legend":null},
"fill":{"field":"s","type":"nominal","scale":{"range":["black","white","black","white"]},"legend":null}}},
{"mark":{"type":"point","strokeWidth":0.9,"size":0,"opacity":1},
"encoding":{
"shape":{"field":"s","type":"nominal","scale":{"range":["M-1,0H-0.17M0.17,0H1M-0.17,0A0.17,0.17,0,1,0,0.17,0A0.17,0.17,0,1,0,-0.17,0Z","M-1,0H-0.17M0.17,0H1M-0.17,0A0.17,0.17,0,1,0,0.17,0A0.17,0.17,0,1,0,-0.17,0Z","M-1,0H-0.14M0.14,0H1M-0.19,-0.12L0.19,-0.12L0,0.2Z","M-1,0H-0.14M0.14,0H1M-0.19,0.12L0.19,0.12L0,-0.2Z"]},"legend":{"title":null,"orient":"none","legendX":7,"legendY":146,"labelExpr":"datum.label=='a'?'Skin Hydrating Nanomist, C-Flow':datum.label=='b'?'Regular Skin Hydrating Mist, C-Flow':datum.label=='c'?'Skin Hydrating Nanomist, Collison':'Regular Skin Hydrating Mist, Collison'"}},
"fill":{"field":"s","type":"nominal","scale":{"range":["black","white","black","white"]},"legend":{"title":null,"orient":"none","legendX":7,"legendY":146,"labelExpr":"datum.label=='a'?'Skin Hydrating Nanomist, C-Flow':datum.label=='b'?'Regular Skin Hydrating Mist, C-Flow':datum.label=='c'?'Skin Hydrating Nanomist, Collison':'Regular Skin Hydrating Mist, Collison'"}},
"stroke":{"field":"s","type":"nominal","scale":{"range":["black","black","black","black"]},"legend":{"title":null,"orient":"none","legendX":7,"legendY":146,"labelExpr":"datum.label=='a'?'Skin Hydrating Nanomist, C-Flow':datum.label=='b'?'Regular Skin Hydrating Mist, C-Flow':datum.label=='c'?'Skin Hydrating Nanomist, Collison':'Regular Skin Hydrating Mist, Collison'"}}}}
]},
{"width":334,"height":217,"data":{"name":"facial"},
"resolve":{"scale":{"shape":"independent","fill":"independent","stroke":"independent"}},
"encoding":{"x":{"field":"x","type":"quantitative","scale":{"type":"log","domain":[10,20000],"nice":false},"axis":{"values":[10,100,1000,10000],"format":"d","labelFlush":false,"title":"Electric Mobility Diameter, nm","titleX":346,"titlePadding":6}},
"y":{"field":"y","type":"quantitative","scale":{"type":"log","domain":[0.001,100000000],"nice":false},"axis":{"values":[0.001,0.01,0.1,1,10,100,1000,10000,100000,1000000,10000000,100000000],"labelExpr":"['10⁻³','10⁻²','10⁻¹','10⁰','10¹','10²','10³','10⁴','10⁵','10⁶','10⁷','10⁸'][round(log(datum.value)/LN10)+3]","title":null}}},
"layer":[
{"mark":{"type":"line","color":"black","strokeWidth":0.8},"encoding":{"detail":{"field":"s"}}},
{"mark":{"type":"point","stroke":"black","strokeWidth":0.8,"size":22,"opacity":1},
"encoding":{
"shape":{"field":"s","type":"nominal","scale":{"domain":["a","b","c","d"],"range":["circle","circle","triangle-down","triangle-up"]},"legend":null},
"fill":{"field":"s","type":"nominal","scale":{"range":["black","white","black","white"]},"legend":null}}},
{"mark":{"type":"point","strokeWidth":0.9,"size":0,"opacity":1},
"encoding":{
"shape":{"field":"s","type":"nominal","scale":{"range":["M-1,0H-0.17M0.17,0H1M-0.17,0A0.17,0.17,0,1,0,0.17,0A0.17,0.17,0,1,0,-0.17,0Z","M-1,0H-0.17M0.17,0H1M-0.17,0A0.17,0.17,0,1,0,0.17,0A0.17,0.17,0,1,0,-0.17,0Z","M-1,0H-0.14M0.14,0H1M-0.19,-0.12L0.19,-0.12L0,0.2Z","M-1,0H-0.14M0.14,0H1M-0.19,0.12L0.19,0.12L0,-0.2Z"]},"legend":{"title":null,"orient":"none","legendX":7,"legendY":148,"labelExpr":"datum.label=='a'?'Facial Nanospray, C-Flow':datum.label=='b'?'Regular Facial Spray, C-Flow':datum.label=='c'?'Facial Nanospray, Collison':'Regular Facial Spray, Collison'"}},
"fill":{"field":"s","type":"nominal","scale":{"range":["black","white","black","white"]},"legend":{"title":null,"orient":"none","legendX":7,"legendY":148,"labelExpr":"datum.label=='a'?'Facial Nanospray, C-Flow':datum.label=='b'?'Regular Facial Spray, C-Flow':datum.label=='c'?'Facial Nanospray, Collison':'Regular Facial Spray, Collison'"}},
"stroke":{"field":"s","type":"nominal","scale":{"range":["black","black","black","black"]},"legend":{"title":null,"orient":"none","legendX":7,"legendY":148,"labelExpr":"datum.label=='a'?'Facial Nanospray, C-Flow':datum.label=='b'?'Regular Facial Spray, C-Flow':datum.label=='c'?'Facial Nanospray, Collison':'Regular Facial Spray, Collison'"}}}}
]},
{"width":334,"height":217,"data":{"name":"wheel"},
"resolve":{"scale":{"shape":"independent","fill":"independent","stroke":"independent"}},
"encoding":{"x":{"field":"x","type":"quantitative","scale":{"type":"log","domain":[10,20000],"nice":false},"axis":{"values":[10,100,1000,10000],"format":"d","labelFlush":false,"title":null}},
"y":{"field":"y","type":"quantitative","scale":{"type":"log","domain":[0.001,100000000],"nice":false},"axis":{"values":[0.001,0.01,0.1,1,10,100,1000,10000,100000,1000000,10000000,100000000],"labels":false,"title":null}}},
"layer":[
{"mark":{"type":"line","color":"black","strokeWidth":0.8},"encoding":{"detail":{"field":"s"}}},
{"mark":{"type":"point","stroke":"black","strokeWidth":0.8,"size":22,"opacity":1},
"encoding":{
"shape":{"field":"s","type":"nominal","scale":{"domain":["a","b","c","d"],"range":["circle","circle","triangle-down","triangle-up"]},"legend":null},
"fill":{"field":"s","type":"nominal","scale":{"range":["black","white","black","white"]},"legend":null}}},
{"mark":{"type":"point","strokeWidth":0.9,"size":0,"opacity":1},
"encoding":{
"shape":{"field":"s","type":"nominal","scale":{"range":["M-1,0H-0.17M0.17,0H1M-0.17,0A0.17,0.17,0,1,0,0.17,0A0.17,0.17,0,1,0,-0.17,0Z"]},"legend":{"title":null,"orient":"none","legendX":7,"legendY":195,"labelExpr":"'Wheel Nanocleaner, C-Flow Nebulizer'"}},
"fill":{"field":"s","type":"nominal","scale":{"range":["black"]},"legend":{"title":null,"orient":"none","legendX":7,"legendY":195,"labelExpr":"'Wheel Nanocleaner, C-Flow Nebulizer'"}},
"stroke":{"field":"s","type":"nominal","scale":{"range":["black"]},"legend":{"title":null,"orient":"none","legendX":7,"legendY":195,"labelExpr":"'Wheel Nanocleaner, C-Flow Nebulizer'"}}}}
]}
]
}
